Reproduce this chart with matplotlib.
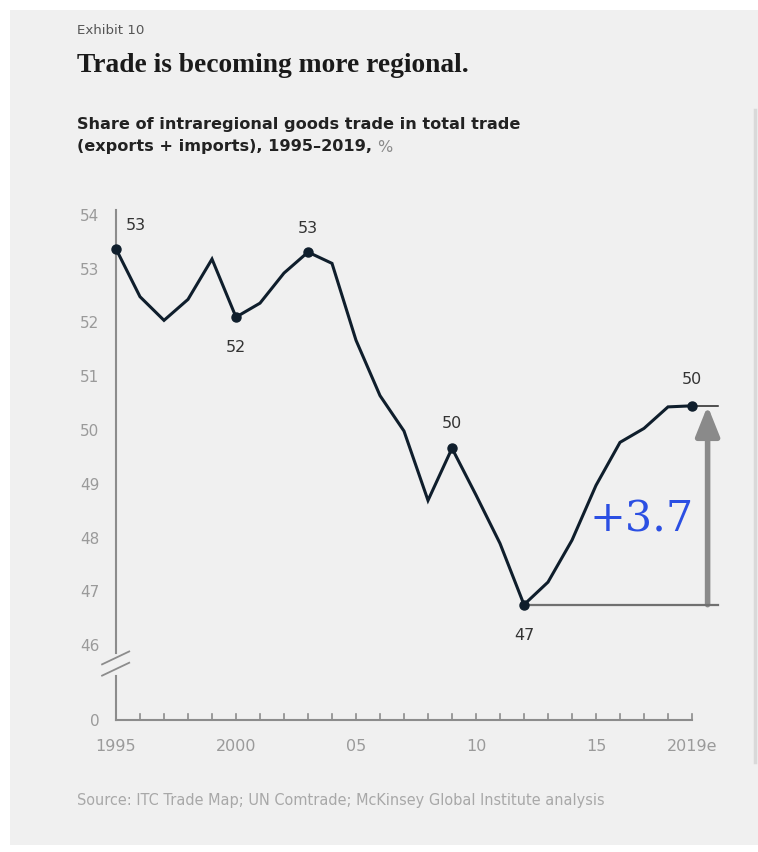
import numpy as np
import matplotlib.pyplot as plt
from matplotlib.patches import Rectangle
from matplotlib.lines import Line2D

years = list(range(1995, 2020))
share = [53.37, 52.48, 52.04, 52.43, 53.18, 52.10, 52.36, 52.92, 53.31, 53.10,
	51.67, 50.64, 49.98, 48.69, 49.66, 48.79, 47.89, 46.75, 47.17, 47.95,
	48.97, 49.77, 50.03, 50.43, 50.45]
labelled = {1995: "53", 2000: "52", 2003: "53", 2009: "50", 2012: "47", 2019: "50"}
label_offsets = {1995: (20, 23), 2000: (0, -30), 2003: (0, 24), 2009: (0, 25), 2012: (0, -31), 2019: (0, 26)}
xtick_labels = {1995: "1995", 2000: "2000", 2005: "05", 2010: "10", 2015: "15", 2019: "2019e"}
yticks = [46, 47, 48, 49, 50, 51, 52, 53, 54]
zero_pos = 44.6	# where the "0" sits below the axis break

line_col = '#0f1e2c'
grey_txt = '#9a9a9a'
axis_col = '#8c8c8c'
sans = 'DejaVu Sans'

W, H = 758, 852
fig = plt.figure(figsize=(W/100, H/100), dpi=100)
fig.patch.set_facecolor('white')
fig.patches.append(Rectangle((10/W, 7/H), 748/W, 835/H, transform=fig.transFigure,
	facecolor='#f0f0f0', edgecolor='none', zorder=-10))
fig.lines.append(Line2D([755/W, 755/W], [1-110/H, 1-762/H], transform=fig.transFigure,
	color='#d9d9d9', lw=2.5))

# header text
fig.text(77/W, 1-30/H, "Exhibit 10", fontsize=9.6, color='#555555', va='center', family=sans)
fig.text(77/W, 1-66/H, "Trade is becoming more regional.", fontsize=19.8, color='#1a1a1a',
	va='center', family='Liberation Serif', weight='bold')
fig.text(77/W, 1-125/H, "Share of intraregional goods trade in total trade", fontsize=11.6,
	color='#222222', va='center', family=sans, weight='bold')
t = fig.text(77/W, 1-147/H, "(exports + imports), 1995\u20132019, ", fontsize=11.6,
	color='#222222', va='center', family=sans, weight='bold')
fig.canvas.draw()
bb = t.get_window_extent()
fig.text(bb.x1/W, 1-147/H, "%", fontsize=11.6, color='#8a8a8a', va='center', family=sans)
fig.text(77/W, 1-800/H, "Source: ITC Trade Map; UN Comtrade; McKinsey Global Institute analysis",
	fontsize=10.45, color='#a8a8a8', va='center', family=sans)

# axes: 1995 at x=116px, 24 px per year; 54 at y=215px, 53.75 px per unit
ylo, yhi = 44.4, 54.2
xlo, xhi = 1995, 2021
ppy = 53.75
top_px = 215 - (yhi - 54) * ppy
bot_px = 215 + (54 - ylo) * ppy
ax = fig.add_axes([116/W, 1-bot_px/H, (xhi-xlo)*24/W, (bot_px-top_px)/H])
ax.set_xlim(xlo, xhi)
ax.set_ylim(ylo, yhi)
ax.patch.set_alpha(0)
for s in ax.spines.values():
	s.set_visible(False)

# axis lines with break
ax.plot([years[0], years[0]], [54.1, 45.85], color=axis_col, lw=1.5, clip_on=False)
ax.plot([years[0], years[0]], [45.42, zero_pos], color=axis_col, lw=1.5, clip_on=False)
for yb in [45.76, 45.55]:
	ax.plot([years[0]-0.58, years[0]+0.55], [yb-0.12, yb+0.12], color=axis_col, lw=1.3, clip_on=False)
ax.plot([years[0], years[-1]], [zero_pos, zero_pos], color=axis_col, lw=1.5, clip_on=False)
for yr in years[1:]:
	ax.plot([yr, yr], [zero_pos, zero_pos+0.12], color=axis_col, lw=1.2)

ax.set_xticks(list(xtick_labels.keys()))
ax.set_xticklabels(list(xtick_labels.values()), color=grey_txt, fontsize=11.5, family=sans)
ax.tick_params(axis='x', length=0, pad=6)
ax.set_yticks([zero_pos] + yticks)
ax.set_yticklabels(["0"] + [str(v) for v in yticks], color=grey_txt, fontsize=11, family=sans)
ax.tick_params(axis='y', length=0, pad=12)

# series
ax.plot(years, share, color=line_col, lw=2.2, solid_joinstyle='miter', zorder=5, clip_on=False)
for yr, lab in labelled.items():
	v = share[years.index(yr)]
	ax.plot(yr, v, 'o', color=line_col, ms=6.5, zorder=6, clip_on=False)
	ax.annotate(lab, (yr, v), xytext=label_offsets[yr], textcoords='offset pixels',
		ha='center', va='center', fontsize=11.5, color='#333333', family=sans)

# change annotation
lo_yr = years[share.index(min(share))]
lo, hi = min(share), share[-1]
x_end = years[-1] + 1.1
x_arrow = years[-1] + 0.65
ax.plot([lo_yr, x_end], [lo, lo], color='#707070', lw=1.6, zorder=4)
ax.plot([years[-1], x_end], [hi, hi], color='#222222', lw=1.1, zorder=4)
ax.annotate('', xy=(x_arrow, hi), xytext=(x_arrow, lo),
	arrowprops=dict(arrowstyle='-|>,head_width=0.4,head_length=1.0', color='#8a8a8a',
	lw=4, mutation_scale=18, shrinkA=0, shrinkB=0))
ax.text(2016.9, 48.33, "+%.1f" % (hi - lo), fontsize=31, color='#2b4fe3',
	family='DejaVu Serif', ha='center', va='center')

fig.savefig('out.png', dpi=100, facecolor=fig.get_facecolor())
